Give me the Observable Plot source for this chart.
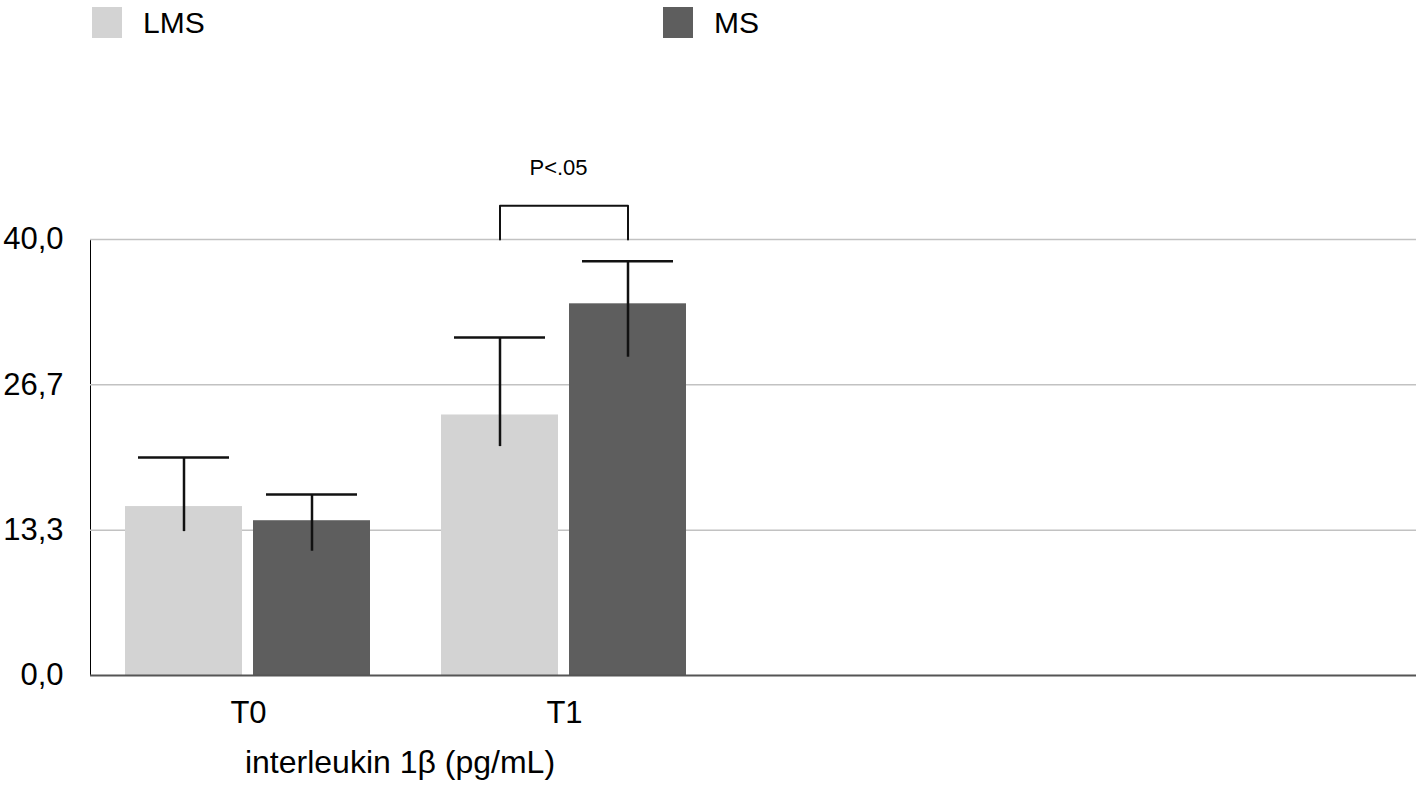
<!DOCTYPE html>
<html>
<head>
<meta charset="utf-8">
<script src="https://cdn.jsdelivr.net/npm/d3@7"></script>
<script src="https://cdn.jsdelivr.net/npm/@observablehq/plot@0.6"></script>
<style>
  html, body { margin: 0; padding: 0; background: #fff; }
  body { width: 1418px; height: 789px; overflow: hidden; font-family: "Liberation Sans", Arial, Helvetica, sans-serif; color: #000; }
  #legend { position: relative; height: 45px; }
  .item { position: absolute; top: 7px; display: flex; align-items: center; height: 31px; }
  .sw { width: 30px; height: 31px; margin-right: 21px; }
  .lbl { font-size: 30px; line-height: 31px; }
  #caption { width: 800px; text-align: center; font-size: 32px; line-height: 38px; margin-top: 8px; }
</style>
</head>
<body>
<div id="legend"></div>
<div id="chart"></div>
<div id="caption"></div>
<script>
// ---- data ----
const times = ["T0", "T1"];
const groups = ["LMS", "MS"];
const groupColors = ["#d3d3d3", "#5e5e5e"];
const lmsMean = [15.5, 23.9];
const lmsLow  = [13.2, 21.0];
const lmsHigh = [20.0, 31.0];
const msMean  = [14.2, 34.1];
const msLow   = [11.4, 29.2];
const msHigh  = [16.6, 38.0];
const yTicks = [0, 13.33, 26.67, 40];
const yTickLabels = ["0,0", "13,3", "26,7", "40,0"];
const xTitle = "interleukin 1β (pg/mL)";
const sigTime = "T1";
const sigLabel = "P<.05";
const sigBase = 40;
const sigTop = 43.1;
const sigTextY = 46.6;

// ---- tables built from the arrays ----
const rows = times.flatMap((t, i) => [
  {time: t, group: groups[0], value: lmsMean[i], low: lmsLow[i], high: lmsHigh[i]},
  {time: t, group: groups[1], value: msMean[i], low: msLow[i], high: msHigh[i]}
]);
const bracket = [
  {time: sigTime, group: groups[0], y: sigBase},
  {time: sigTime, group: groups[0], y: sigTop},
  {time: sigTime, group: groups[1], y: sigTop},
  {time: sigTime, group: groups[1], y: sigBase}
];
const sigRows = [{time: sigTime, label: sigLabel, y: sigTextY}];
// horizontal reference lines drawn once, from the last facet, stretched across the frame
const lastTime = times[times.length - 1];
const gridRows = yTicks.slice(1).map(y => ({time: lastTime, y}));
const baseRows = [{time: lastTime, y: yTicks[0]}];

// ---- legend ----
const legend = document.getElementById("legend");
const legendLeft = [92, 663];
groups.forEach((g, i) => {
  const it = document.createElement("div");
  it.className = "item";
  it.style.left = legendLeft[i] + "px";
  const sw = document.createElement("span");
  sw.className = "sw";
  sw.style.background = groupColors[i];
  const tx = document.createElement("span");
  tx.className = "lbl";
  tx.textContent = g;
  it.append(sw, tx);
  legend.append(it);
});

// ---- chart ----
const width = 1418, height = 690;
const marginLeft = 90, marginRight = 696, marginTop = 194, marginBottom = 60;
const facetWidth = (width - marginLeft - marginRight) / times.length;
const stretchLeft = -facetWidth * (times.length - 1);
const stretchRight = -(marginRight - 2);

const chart = Plot.plot({
  width, height, marginLeft, marginRight, marginTop, marginBottom,
  style: {fontSize: "31px", fontFamily: "'Liberation Sans', Arial, Helvetica, sans-serif", background: "white", color: "black", overflow: "visible"},
  fx: {domain: times, padding: 0, label: null, axis: "bottom", tickSize: 0, tickPadding: 25},
  x: {domain: groups, paddingInner: 0.085, paddingOuter: 0.2675, axis: null},
  y: {domain: [0, 40], ticks: yTicks, tickFormat: (d, i) => yTickLabels[i], tickSize: 0, tickPadding: 27, label: null, line: true},
  color: {domain: groups, range: groupColors},
  marks: [
    Plot.ruleY(gridRows, {fx: "time", y: "y", stroke: "#c2c2c2", strokeWidth: 1.5, insetLeft: stretchLeft, insetRight: stretchRight}),
    Plot.barY(rows, {fx: "time", x: "group", y: "value", fill: "group"}),
    Plot.ruleX(rows, {fx: "time", x: "group", y1: "low", y2: "high", stroke: "#111", strokeWidth: 2.5}),
    Plot.tickY(rows, {fx: "time", x: "group", y: "high", stroke: "#111", strokeWidth: 2.5, inset: 13}),
    Plot.ruleY(baseRows, {fx: "time", y: "y", stroke: "#555", strokeWidth: 2, insetLeft: stretchLeft, insetRight: stretchRight}),
    Plot.line(bracket, {fx: "time", x: "group", y: "y", stroke: "#111", strokeWidth: 2}),
    Plot.text(sigRows, {fx: "time", text: "label", y: "y", fontSize: 22, dx: -6})
  ]
});
document.getElementById("chart").append(chart);
document.getElementById("caption").textContent = xTitle;
</script>
</body>
</html>
